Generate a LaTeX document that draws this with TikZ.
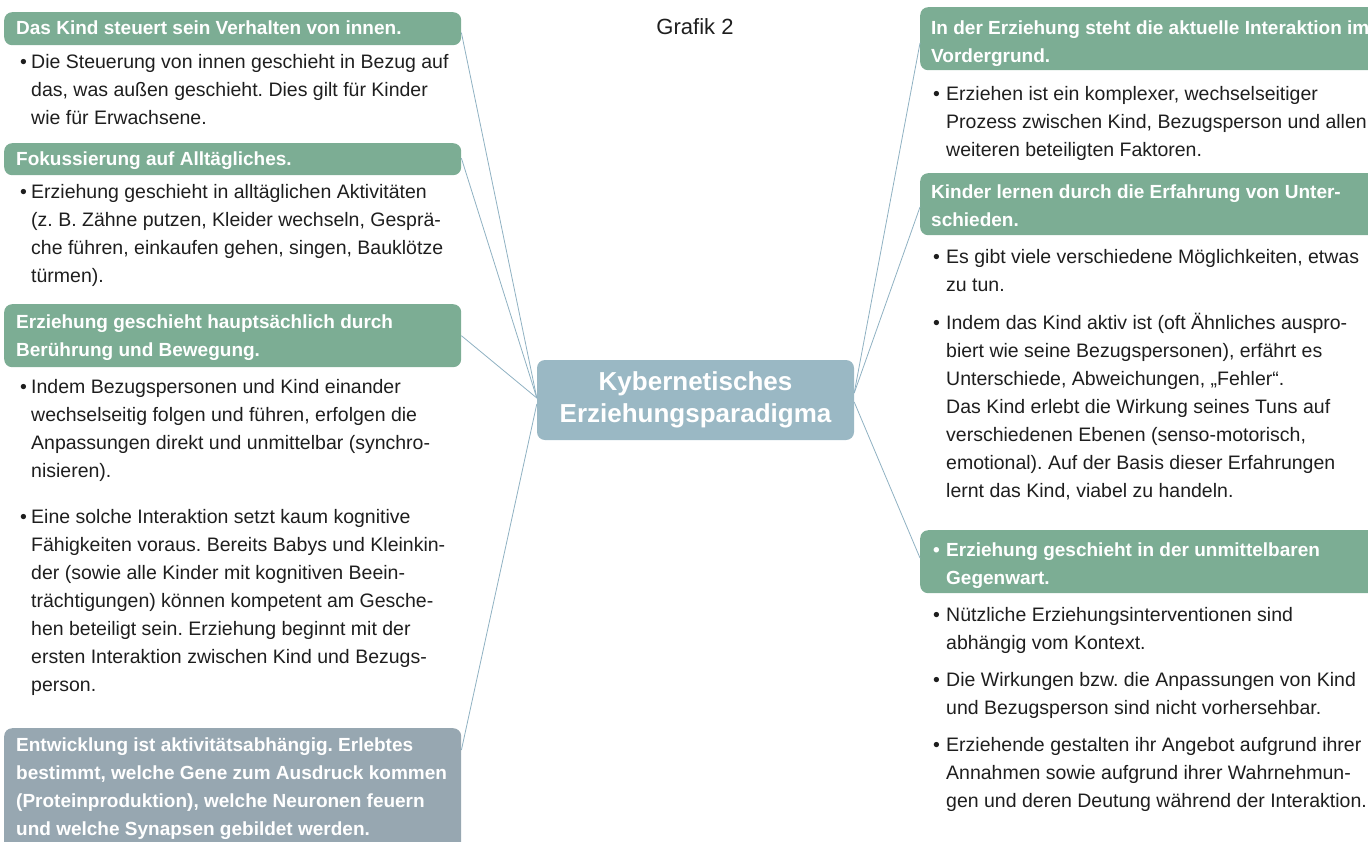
\documentclass[tikz,border=0pt]{standalone}
\usepackage{fontspec}
\setmainfont{Liberation Sans}
\usetikzlibrary{calc}
\frenchspacing
\definecolor{hgreen}{HTML}{7CAD94}
\definecolor{hgrey}{HTML}{97A7B1}
\definecolor{cblue}{HTML}{9AB8C4}
\definecolor{lnblue}{HTML}{8FB1C2}
\definecolor{txt}{HTML}{1E1E1E}
\newcommand{\bdfont}{\fontsize{19.5}{28}\selectfont}
\newcommand{\hdfont}{\fontsize{19}{28}\selectfont\bfseries}
\newcommand{\ctfont}{\fontsize{26}{32}\selectfont\bfseries}
\newcommand{\lbul}{\makebox[11pt][l]{•}}
\newcommand{\lind}{\hspace*{11pt}}
\newcommand{\rbul}{\makebox[13pt][l]{•}}
\newcommand{\rind}{\hspace*{13pt}}
\tikzset{
  hbox/.style={fill=hgreen, rounded corners=8pt, anchor=north west, inner sep=0pt},
  lbox/.style={hbox, minimum width=457pt},
  rbox/.style={hbox, minimum width=470pt},
  hdrtxt/.style={anchor=base west, inner sep=0pt, align=left, font=\hdfont, text=white},
  bodytxt/.style={anchor=base west, inner sep=0pt, align=left, font=\bdfont, text=txt},
  conn/.style={draw=lnblue, line width=0.8pt},
}
\begin{document}
\begin{tikzpicture}[x=1pt,y=1pt]
\useasboundingbox (0,0) rectangle (1368,-841);
\clip (0,0) rectangle (1368,-841);

% title
\node[font=\fontsize{22}{26}\selectfont, text=txt, inner sep=0pt] (title) at (695,-27) {Grafik 2};

% center
\node[fill=cblue, rounded corners=8pt, text=white, font=\ctfont, align=center,
  minimum width=317pt, minimum height=80pt, inner sep=0pt] (c) at (695.5,-400)
  {Kybernetisches\\Erziehungsparadigma};

% left header boxes
\node[lbox, minimum height=33pt] (l1) at (4,-12) {};
\node[lbox, minimum height=32pt] (l2) at (4,-143) {};
\node[lbox, minimum height=63pt] (l3) at (4,-304) {};
\node[lbox, fill=hgrey, minimum height=125pt] (l4) at (4,-728) {};

% left header texts
\node[hdrtxt] (l1t) at (16,-34) {Das Kind steuert sein Verhalten von innen.};
\node[hdrtxt] (l2t) at (16,-165) {Fokussierung auf Alltägliches.};
\node[hdrtxt] (l3t) at (16,-356) {Erziehung geschieht hauptsächlich durch\\Berührung und Bewegung.};
\node[hdrtxt] (l4t) at (16,-835) {Entwicklung ist aktivitätsabhängig. Erlebtes\\bestimmt, welche Gene zum Ausdruck kommen\\(Proteinproduktion), welche Neuronen feuern\\und welche Synapsen gebildet werden.};

% left bodies
\node[bodytxt] (lb1) at (20,-124) {\lbul Die Steuerung von innen geschieht in Bezug auf\\\lind das, was außen geschieht. Dies gilt für Kinder\\\lind wie für Erwachsene.};
\node[bodytxt] (lb2) at (20,-282) {\lbul Erziehung geschieht in alltäglichen Aktivitäten\\\lind (z. B. Zähne putzen, Kleider wechseln, Gesprä-\\\lind che führen, einkaufen gehen, singen, Bauklötze\\\lind türmen).};
\node[bodytxt] (lb3) at (20,-477) {\lbul Indem Bezugspersonen und Kind einander\\\lind wechselseitig folgen und führen, erfolgen die\\\lind Anpassungen direkt und unmittelbar (synchro-\\\lind nisieren).};
\node[bodytxt] (lb4) at (20,-691) {\lbul Eine solche Interaktion setzt kaum kognitive\\\lind Fähigkeiten voraus. Bereits Babys und Kleinkin-\\\lind der (sowie alle Kinder mit kognitiven Beein-\\\lind trächtigungen) können kompetent am Gesche-\\\lind hen beteiligt sein. Erziehung beginnt mit der\\\lind ersten Interaktion zwischen Kind und Bezugs-\\\lind person.};

% right header boxes
\node[rbox, minimum height=63pt] (r1) at (920,-7) {};
\node[rbox, minimum height=62pt] (r2) at (920,-173) {};
\node[rbox, minimum height=63pt] (r3) at (920,-530) {};

% right header texts
\node[hdrtxt] (r1t) at (931,-62) {In der Erziehung steht die aktuelle Interaktion im\\Vordergrund.};
\node[hdrtxt] (r2t) at (931,-226) {Kinder lernen durch die Erfahrung von Unter-\\schieden.};
\node[hdrtxt] (r3t) at (933,-584) {\rbul Erziehung geschieht in der unmittelbaren\\\rind Gegenwart.};

% right bodies
\node[bodytxt] (rb1) at (933,-156) {\rbul Erziehen ist ein komplexer, wechselseitiger\\\rind Prozess zwischen Kind, Bezugsperson und allen\\\rind weiteren beteiligten Faktoren.};
\node[bodytxt] (rb2) at (933,-291) {\rbul Es gibt viele verschiedene Möglichkeiten, etwas\\\rind zu tun.};
\node[bodytxt] (rb3) at (933,-497) {\rbul Indem das Kind aktiv ist (oft Ähnliches auspro-\\\rind biert wie seine Bezugspersonen), erfährt es\\\rind Unterschiede, Abweichungen, „Fehler“.\\\rind Das Kind erlebt die Wirkung seines Tuns auf\\\rind verschiedenen Ebenen (senso-motorisch,\\\rind emotional). Auf der Basis dieser Erfahrungen\\\rind lernt das Kind, viabel zu handeln.};
\node[bodytxt] (rb4) at (933,-649) {\rbul Nützliche Erziehungsinterventionen sind\\\rind abhängig vom Kontext.};
\node[bodytxt] (rb5) at (933,-714) {\rbul Die Wirkungen bzw. die Anpassungen von Kind\\\rind und Bezugsperson sind nicht vorhersehbar.};
\node[bodytxt] (rb6) at (933,-807) {\rbul Erziehende gestalten ihr Angebot aufgrund ihrer\\\rind Annahmen sowie aufgrund ihrer Wahrnehmun-\\\rind gen und deren Deutung während der Interaktion.};

% connectors
\draw[conn] ($(c.west)+(0,2)$) -- ($(l1.east)+(0,-4)$);
\draw[conn] ($(c.west)+(0,2)$) -- ($(l2.east)+(0,1)$);
\draw[conn] ($(c.west)+(0,2)$) -- (l3.east);
\draw[conn] ($(c.west)+(0,-4)$) -- ($(l4.north east)+(0,-22)$);
\draw[conn] ($(c.east)+(0,7)$) -- ($(r1.north west)+(0,-36)$);
\draw[conn] ($(c.east)+(0,7)$) -- ($(r2.north west)+(0,-34)$);
\draw[conn] ($(c.east)+(0,-2)$) -- ($(r3.north west)+(0,-28)$);
\end{tikzpicture}
\end{document}
